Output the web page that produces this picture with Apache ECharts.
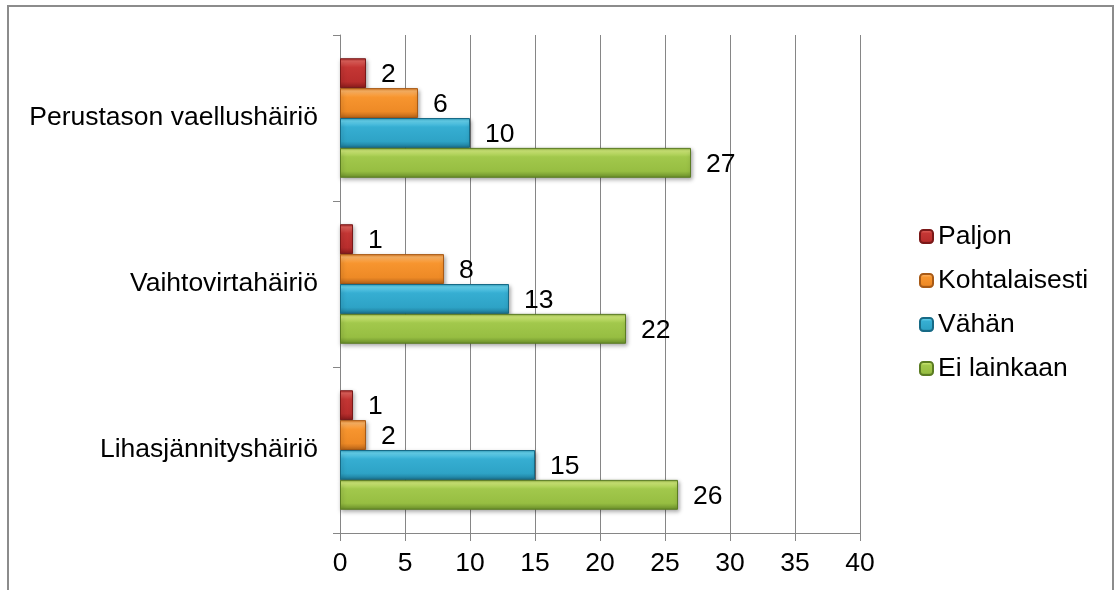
<!DOCTYPE html>
<html>
<head>
<meta charset="utf-8">
<script src="https://cdn.jsdelivr.net/npm/echarts@6/dist/echarts.min.js"></script>
<style>
  html, body { margin: 0; padding: 0; background: #ffffff; }
  #chart { width: 1116px; height: 590px; }
</style>
</head>
<body>
<div id="chart"></div>
<script>
// Categories listed bottom to top (category y-axis runs upward)
const categories = ['Lihasjännityshäiriö', 'Vaihtovirtahäiriö', 'Perustason vaellushäiriö'];
const seriesNames = ['Paljon', 'Kohtalaisesti', 'Vähän', 'Ei lainkaan'];
const paljon = [1, 1, 2];
const kohtalaisesti = [2, 8, 6];
const vahan = [15, 13, 10];
const eiLainkaan = [26, 22, 27];
const xTicks = [0, 5, 10, 15, 20, 25, 30, 35, 40];

// Bevel-like vertical shading: [edge, highlight, base, base, dark bottom], border
const palettes = [
  { stops: ['#a82a2a', '#e0605a', '#c43634', '#b92e2d', '#8a1c1c'], border: '#7a1818' },
  { stops: ['#d97a22', '#ffb565', '#f7952f', '#ee8a26', '#b9651a'], border: '#a85a16' },
  { stops: ['#2a97b8', '#66d4f0', '#36aed2', '#2ea3c6', '#1c7896'], border: '#176a86' },
  { stops: ['#86a838', '#d0ea78', '#a2c84c', '#97be42', '#6a8f2a'], border: '#5b7c22' }
];

function bevel(p) {
  return {
    type: 'linear', x: 0, y: 0, x2: 0, y2: 1,
    colorStops: [
      { offset: 0, color: p.stops[0] },
      { offset: 0.1, color: p.stops[1] },
      { offset: 0.3, color: p.stops[2] },
      { offset: 0.78, color: p.stops[3] },
      { offset: 1, color: p.stops[4] }
    ]
  };
}

const font = "'Liberation Sans', Arial, sans-serif";
const fontSize = 26.5;
const values = [paljon, kohtalaisesti, vahan, eiLainkaan];

const series = seriesNames.map((name, i) => ({
  name: name,
  type: 'bar',
  data: values[i],
  barGap: '0%',
  barCategoryGap: '28%',
  itemStyle: {
    color: bevel(palettes[i]),
    borderColor: palettes[i].border,
    borderWidth: 1,
    shadowColor: 'rgba(0,0,0,0.35)',
    shadowBlur: 4,
    shadowOffsetX: 1,
    shadowOffsetY: 2
  },
  label: {
    show: true,
    position: 'right',
    distance: 15,
    offset: [0, 2],
    color: '#000000',
    fontFamily: font,
    fontSize: fontSize
  }
}));

const chart = echarts.init(document.getElementById('chart'), null, { renderer: 'canvas' });
chart.setOption({
  animation: false,
  backgroundColor: '#ffffff',
  textStyle: { fontFamily: font },
  grid: { left: 340, right: 256, top: 35, bottom: 57, containLabel: false },
  legend: {
    orient: 'vertical',
    left: 919,
    top: 223,
    padding: 0,
    itemGap: 17,
    itemWidth: 13,
    itemHeight: 13,
    data: seriesNames,
    textStyle: { color: '#000000', fontSize: fontSize, fontFamily: font, lineHeight: 26 }
  },
  xAxis: {
    type: 'value',
    min: 0,
    max: 40,
    interval: 5,
    axisLine: { show: true, lineStyle: { color: '#868686', width: 1 } },
    axisTick: { show: true, length: 8, lineStyle: { color: '#868686' } },
    splitLine: { show: true, lineStyle: { color: '#868686', width: 1 } },
    axisLabel: {
      margin: 17,
      color: '#000000',
      fontSize: fontSize,
      fontFamily: font,
      formatter: v => (xTicks.indexOf(v) >= 0 ? String(v) : '')
    }
  },
  yAxis: {
    type: 'category',
    data: categories,
    axisLine: { show: true, lineStyle: { color: '#868686', width: 1 } },
    axisTick: { show: true, length: 7, lineStyle: { color: '#868686' } },
    axisLabel: { margin: 22, color: '#000000', fontSize: fontSize, fontFamily: font, padding: [4, 0, 0, 0] },
    splitLine: { show: false }
  },
  graphic: [{
    type: 'rect',
    shape: { x: 8, y: 6, width: 1105, height: 620 },
    style: { fill: null, stroke: '#8c8c8c', lineWidth: 2 },
    silent: true,
    z: 100
  }],
  series: series
});
</script>
</body>
</html>
